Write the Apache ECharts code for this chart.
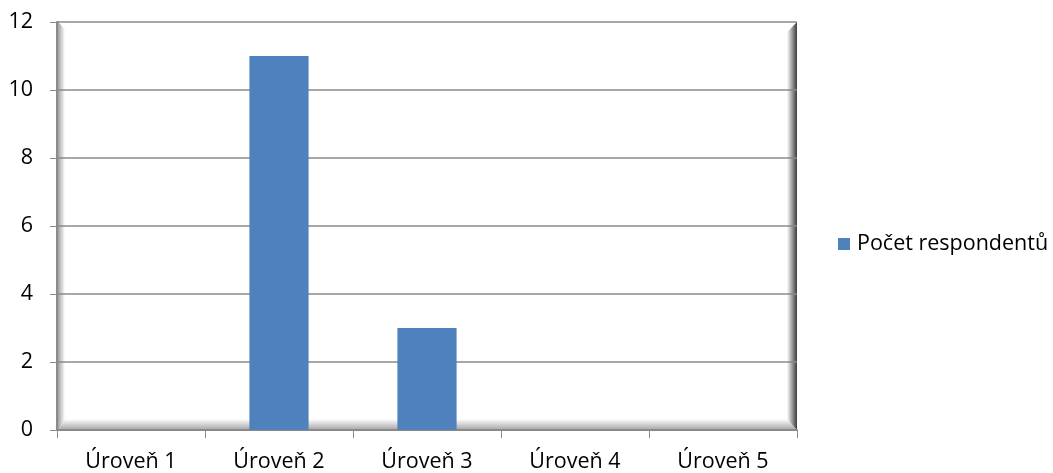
<!DOCTYPE html>
<html>
<head>
<meta charset="utf-8">
<script src="https://cdn.jsdelivr.net/npm/echarts@6/dist/echarts.min.js"></script>
<style>
  html, body { margin: 0; padding: 0; background: #fff; }
  #chart { width: 1053px; height: 473px; }
</style>
</head>
<body>
<div id="chart"></div>
<script>
// Survey: number of respondents per level
const categories = ['Úroveň 1', 'Úroveň 2', 'Úroveň 3', 'Úroveň 4', 'Úroveň 5'];
const respondents = [0, 11, 3, 0, 0];
const seriesName = 'Počet respondentů';
const yMin = 0, yMax = 12, yStep = 2;

const FONT = '"Open Sans"';
const FS = 21.5;
const GRID = { left: 57, right: 256, top: 22, bottom: 42 };
const lineGray = '#8a8a8a';

const chart = echarts.init(document.getElementById('chart'), null, { renderer: 'canvas' });

chart.setOption({
  animation: false,
  textStyle: { fontFamily: FONT },
  grid: { left: GRID.left, right: GRID.right, top: GRID.top, bottom: GRID.bottom, containLabel: false },
  legend: {
    data: [seriesName],
    orient: 'vertical',
    left: 838,
    top: 232,
    padding: 0,
    itemWidth: 12,
    itemHeight: 12,
    itemGap: 6,
    icon: 'rect',
    textStyle: { fontFamily: FONT, fontSize: FS, lineHeight: 24, color: '#000', padding: [0, 0, 0, 2] }
  },
  xAxis: {
    type: 'category',
    data: categories,
    axisLine: { show: true, lineStyle: { color: lineGray, width: 2 } },
    axisTick: { show: true, alignWithLabel: false, length: 8, lineStyle: { color: lineGray, width: 1 } },
    axisLabel: { color: '#000', fontSize: FS, fontFamily: FONT, margin: 21 },
    splitLine: { show: false }
  },
  yAxis: {
    type: 'value',
    min: yMin,
    max: yMax,
    interval: yStep,
    axisLine: { show: true, lineStyle: { color: lineGray, width: 2 } },
    axisTick: { show: true, length: 7, lineStyle: { color: lineGray, width: 1 } },
    axisLabel: { color: '#000', fontSize: FS, fontFamily: FONT, margin: 24 },
    splitLine: { show: true, lineStyle: { color: lineGray, width: 1.5 } }
  },
  series: [{
    name: seriesName,
    type: 'bar',
    data: respondents,
    barWidth: '40%',
    itemStyle: { color: '#4f81bd' },
    z: 3
  }]
});

// Bevelled back wall of the plot area, placed from the axis scales
function drawWall() {
  const toPx = (i, v) => chart.convertToPixel({ xAxisIndex: 0, yAxisIndex: 0 }, [i, v]);
  const [c0, bottom] = toPx(0, yMin);
  const [c1, top] = toPx(1, yMax);
  const band = c1 - c0;
  const left = c0 - band / 2 + 1;
  const right = c0 + band * (categories.length - 0.5);
  const dl = 7, dr = 10, db = 11;
  const lg = (x1_, y1_, x2_, y2_, a, b) => ({
    type: 'linear', x: x1_, y: y1_, x2: x2_, y2: y2_, global: true,
    colorStops: [{ offset: 0, color: a }, { offset: 1, color: b }]
  });
  chart.setOption({
    graphic: [
      {
        type: 'polygon', z: -5, silent: true,
        shape: { points: [[left, top], [left + dl, top + dl], [left + dl, bottom - db], [left, bottom]] },
        style: { fill: lg(left, 0, left + dl, 0, '#a0a0a0', '#ffffff') }
      },
      {
        type: 'polygon', z: -5, silent: true,
        shape: { points: [[left, bottom], [left + dl, bottom - db], [right - dr, bottom - db], [right, bottom]] },
        style: { fill: lg(0, bottom - db, 0, bottom, '#ffffff', '#a4a4a4') }
      },
      {
        type: 'polygon', z: -5, silent: true,
        shape: { points: [[right, top], [right, bottom], [right - dr, bottom - db], [right - dr, top + dr]] },
        style: { fill: lg(right - dr, 0, right, 0, '#ffffff', '#3c3c3c') }
      }
    ]
  });
}
drawWall();
</script>
</body>
</html>
